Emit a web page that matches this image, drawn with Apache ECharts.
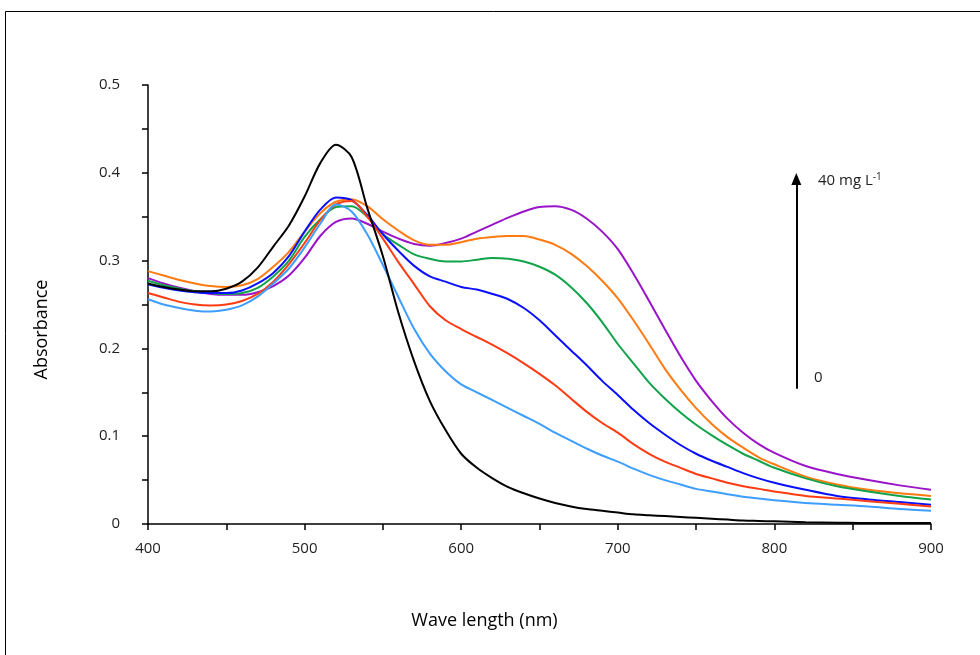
<!DOCTYPE html>
<html>
<head>
<meta charset="utf-8">
<script src="https://cdn.jsdelivr.net/npm/echarts@6/dist/echarts.min.js"></script>
<style>
  html, body { margin: 0; padding: 0; background: #fff; }
  #chart { width: 980px; height: 655px; }
</style>
</head>
<body>
<div id="chart"></div>
<script>
// wavelength (nm)
var waveLength = [400, 410, 420, 430, 440, 450, 460, 470, 480, 490, 500, 510, 520, 530, 540, 550, 560, 570, 580, 590,
                  600, 610, 620, 630, 640, 650, 660, 670, 680, 690, 700, 710, 720, 730, 740, 750, 760, 770, 780, 790,
                  800, 820, 840, 860, 880, 900];

// absorbance, 0 -> 40 mg L-1
var abs0 = [0.274, 0.270, 0.267, 0.265, 0.265, 0.268, 0.276, 0.292, 0.316, 0.340, 0.373, 0.411, 0.432, 0.418, 0.360, 0.305, 0.240, 0.185, 0.140, 0.107,
            0.080, 0.064, 0.052, 0.042, 0.035, 0.029, 0.024, 0.020, 0.017, 0.015, 0.013, 0.011, 0.010, 0.009, 0.008, 0.007, 0.006, 0.005, 0.004, 0.0035,
            0.003, 0.002, 0.0015, 0.001, 0.001, 0.001];
var abs1 = [0.256, 0.250, 0.246, 0.243, 0.242, 0.244, 0.249, 0.259, 0.274, 0.291, 0.315, 0.342, 0.364, 0.356, 0.330, 0.295, 0.258, 0.222, 0.194, 0.174,
            0.159, 0.150, 0.141, 0.132, 0.123, 0.114, 0.104, 0.095, 0.086, 0.078, 0.071, 0.063, 0.056, 0.050, 0.045, 0.040, 0.037, 0.034, 0.031, 0.029,
            0.027, 0.024, 0.022, 0.020, 0.017, 0.015];
var abs2 = [0.263, 0.258, 0.253, 0.250, 0.249, 0.250, 0.254, 0.262, 0.276, 0.296, 0.320, 0.346, 0.364, 0.368, 0.350, 0.325, 0.298, 0.273, 0.248, 0.232,
            0.222, 0.213, 0.204, 0.194, 0.183, 0.171, 0.158, 0.143, 0.128, 0.115, 0.104, 0.091, 0.080, 0.071, 0.064, 0.057, 0.052, 0.047, 0.043, 0.040,
            0.037, 0.032, 0.029, 0.026, 0.023, 0.020];
var abs3 = [0.273, 0.269, 0.266, 0.264, 0.263, 0.263, 0.266, 0.274, 0.286, 0.305, 0.333, 0.358, 0.372, 0.369, 0.352, 0.330, 0.311, 0.294, 0.282, 0.276,
            0.270, 0.267, 0.262, 0.256, 0.246, 0.232, 0.215, 0.198, 0.181, 0.163, 0.147, 0.130, 0.115, 0.102, 0.090, 0.080, 0.072, 0.065, 0.058, 0.052,
            0.047, 0.039, 0.032, 0.028, 0.025, 0.022];
var abs4 = [0.277, 0.272, 0.268, 0.265, 0.263, 0.262, 0.263, 0.269, 0.282, 0.300, 0.327, 0.347, 0.361, 0.362, 0.350, 0.330, 0.318, 0.307, 0.302, 0.299,
            0.299, 0.301, 0.303, 0.302, 0.299, 0.293, 0.284, 0.270, 0.252, 0.230, 0.205, 0.183, 0.161, 0.143, 0.127, 0.113, 0.101, 0.090, 0.080, 0.072,
            0.064, 0.052, 0.043, 0.037, 0.032, 0.028];
var abs5 = [0.288, 0.283, 0.278, 0.274, 0.271, 0.270, 0.272, 0.279, 0.293, 0.310, 0.333, 0.354, 0.367, 0.370, 0.362, 0.347, 0.334, 0.323, 0.318, 0.318,
            0.321, 0.325, 0.327, 0.328, 0.328, 0.324, 0.318, 0.308, 0.294, 0.277, 0.257, 0.232, 0.205, 0.177, 0.153, 0.132, 0.114, 0.099, 0.087, 0.076,
            0.068, 0.054, 0.045, 0.039, 0.035, 0.032];
var abs6 = [0.280, 0.274, 0.269, 0.265, 0.262, 0.261, 0.261, 0.264, 0.271, 0.283, 0.303, 0.328, 0.344, 0.348, 0.342, 0.333, 0.325, 0.319, 0.317, 0.320,
            0.325, 0.333, 0.341, 0.349, 0.356, 0.361, 0.362, 0.358, 0.348, 0.333, 0.313, 0.285, 0.254, 0.222, 0.191, 0.163, 0.140, 0.120, 0.104, 0.091,
            0.081, 0.066, 0.057, 0.050, 0.044, 0.039];

var seriesData = [abs0, abs1, abs2, abs3, abs4, abs5, abs6];
var lineColors = ['#000000', '#3d9eff', '#ff3b12', '#0a10ff', '#10a34a', '#ff7a10', '#9a14c8'];

var xTicks = [400, 500, 600, 700, 800, 900];
var yTicks = [0, 0.1, 0.2, 0.3, 0.4, 0.5];

// concentration arrow (data coords)
var arrowX = 814;
var arrowFrom = 0.154;
var arrowTo = 0.393;

var fontName = 'Open Sans';

function pairs(arr){
    var out = [];
    for (var i = 0; i < waveLength.length; i ++)
        out.push([waveLength[i], arr[i]]);
    return out;
}

var series = [];
seriesData.forEach(function(arr, idx){
    series.push({
        type: 'line',
        data: pairs(arr),
        smooth: 0.3,
        symbol: 'none',
        z: 10 - idx,
        lineStyle: {color: lineColors[idx], width: 2},
        silent: true
    });
});
// arrow annotation
series.push({
    type: 'line',
    data: [],
    markLine: {
        silent: true,
        symbol: ['none', 'triangle'],
        symbolSize: [10, 12],
        label: {show: false},
        lineStyle: {color: '#000', width: 2, type: 'solid'},
        data: [[{coord: [arrowX, arrowFrom]}, {coord: [arrowX, arrowTo]}]]
    }
});

var option = {
    animation: false,
    backgroundColor: '#fff',
    grid: {left: 148, right: 49, top: 85, bottom: 131},
    xAxis: {
        type: 'value',
        min: 400,
        max: 900,
        interval: 50,
        name: 'Wave length (nm)',
        nameLocation: 'middle',
        nameGap: 88,
        nameTextStyle: {fontFamily: fontName, fontSize: 18, color: '#000', padding: [0, 110, 0, 0]},
        axisLine: {lineStyle: {color: '#000', width: 1.5}},
        axisTick: {inside: false, length: 6, lineStyle: {color: '#000', width: 1.5}},
        axisLabel: {
            margin: 17, fontFamily: fontName, fontSize: 15, color: '#222',
            formatter: function(v){ return xTicks.indexOf(v) >= 0 ? String(v) : ''; }
        },
        splitLine: {show: false}
    },
    yAxis: {
        type: 'value',
        min: 0,
        max: 0.5,
        interval: 0.05,
        name: 'Absorbance',
        nameLocation: 'middle',
        nameGap: 97,
        nameRotate: 90,
        nameTextStyle: {fontFamily: fontName, fontSize: 18, color: '#000', padding: [0, 50, 0, 0]},
        axisLine: {show: true, lineStyle: {color: '#000', width: 1.5}},
        axisTick: {show: true, inside: false, length: 6, lineStyle: {color: '#000', width: 1.5}},
        axisLabel: {
            margin: 28, fontFamily: fontName, fontSize: 15, color: '#222',
            formatter: function(v){
                var r = Math.round(v * 100);
                for (var i = 0; i < yTicks.length; i ++)
                    if (Math.round(yTicks[i] * 100) === r) return String(yTicks[i]);
                return '';
            }
        },
        splitLine: {show: false}
    },
    graphic: [
        {
            type: 'rect',
            shape: {x: 5.5, y: 11.5, width: 1000, height: 700},
            style: {fill: 'none', stroke: '#000', lineWidth: 1}
        },
        {
            type: 'text',
            left: 818,
            top: 172,
            style: {
                text: '{a|40 mg L}{s|-1}',
                rich: {
                    a: {fontFamily: fontName, fontSize: 15, fill: '#222'},
                    s: {fontFamily: fontName, fontSize: 10, fill: '#222', verticalAlign: 'top', padding: [0, 0, 8, 0]}
                }
            }
        },
        {
            type: 'text',
            left: 814,
            top: 370,
            style: {text: '0', fontFamily: fontName, fontSize: 15, fill: '#222'}
        }
    ],
    series: series
};

var chart = echarts.init(document.getElementById('chart'));
chart.setOption(option);
</script>
</body>
</html>
